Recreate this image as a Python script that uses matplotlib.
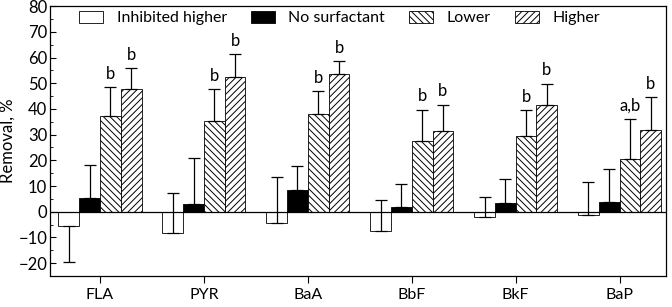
import matplotlib.pyplot as plt
import numpy as np
from matplotlib.ticker import MultipleLocator

plt.rcParams['font.family'] = ['Lato', 'DejaVu Sans']
plt.rcParams['hatch.linewidth'] = 0.7

# data
compounds = ['FLA', 'PYR', 'BaA', 'BbF', 'BkF', 'BaP']
inhibited = [-5.7, -8.4, -4.5, -7.4, -1.9, -1.3]
inhibited_err_low = [13.7, 0, 0, 0, 0, 0]
inhibited_err_up = [0, 15.6, 17.9, 11.8, 7.8, 12.7]
no_surf = [5.4, 3.1, 8.5, 1.9, 3.5, 3.6]
no_surf_err = [12.9, 17.7, 9.3, 8.9, 9.3, 12.9]
lower = [37.2, 35.4, 38.2, 27.7, 29.3, 20.6]
lower_err = [11.3, 12.2, 8.6, 11.9, 10.2, 15.5]
higher = [47.6, 52.3, 53.5, 31.6, 41.7, 31.9]
higher_err = [8.3, 9.0, 5.0, 10.1, 8.0, 12.6]
lower_letters = ['b', 'b', 'b', 'b', 'b', 'a,b']
higher_letters = ['b', 'b', 'b', 'b', 'b', 'b']

x = np.arange(len(compounds))
w = 0.2

fig = plt.figure(figsize=(6.72, 3.07), dpi=100)
ax = fig.add_axes([0.0744, 0.101, 0.9166, 0.879])

ek = dict(ecolor='black', elinewidth=0.9, capsize=4, capthick=0.9)
ax.bar(x - 1.5*w, inhibited, w, color='white', edgecolor='black', linewidth=0.6,
       yerr=[inhibited_err_low, inhibited_err_up], error_kw=ek, label='Inhibited higher')
ax.bar(x - 0.5*w, no_surf, w, color='black', edgecolor='black', linewidth=0.6,
       yerr=[np.zeros(6), no_surf_err], error_kw=ek, label='No surfactant')
ax.bar(x + 0.5*w, lower, w, color='white', edgecolor='black', linewidth=0.6,
       hatch='\\\\\\\\\\', yerr=[np.zeros(6), lower_err], error_kw=ek, label='Lower')
ax.bar(x + 1.5*w, higher, w, color='white', edgecolor='black', linewidth=0.6,
       hatch='/////', yerr=[np.zeros(6), higher_err], error_kw=ek, label='Higher')

for i in range(len(x)):
    ax.annotate(lower_letters[i], (x[i] + 0.5*w, lower[i] + lower_err[i]),
                xytext=(0, 4), textcoords='offset points', ha='center', va='bottom', fontsize=12)
    ax.annotate(higher_letters[i], (x[i] + 1.5*w, higher[i] + higher_err[i]),
                xytext=(0, 4), textcoords='offset points', ha='center', va='bottom', fontsize=12)

ax.axhline(0, color='black', linewidth=0.9)
ax.set_xlim(-0.481, 5.446)
ax.set_ylim(-25, 80)
ax.yaxis.set_major_locator(MultipleLocator(10))
ax.yaxis.set_minor_locator(MultipleLocator(5))
ax.tick_params(axis='y', which='major', direction='in', length=4, labelsize=12, pad=2)
ax.tick_params(axis='y', which='minor', direction='in', length=2)
ax.set_xticks(x)
ax.set_xticklabels(compounds)
ax.tick_params(axis='x', direction='out', length=5, labelsize=11.5, pad=4)
ax.set_ylabel('Removal, %', fontsize=12)
ax.yaxis.set_label_coords(-0.056, 0.5)
for s in ax.spines.values():
    s.set_linewidth(0.9)

ax.legend(loc='upper left', ncol=4, frameon=False, fontsize=11.5, handlelength=1.5,
          handleheight=0.72, handletextpad=0.85, columnspacing=1.5, borderaxespad=0.0,
          bbox_to_anchor=(0.037, 1.005))

fig.savefig('out.png', dpi=100)
